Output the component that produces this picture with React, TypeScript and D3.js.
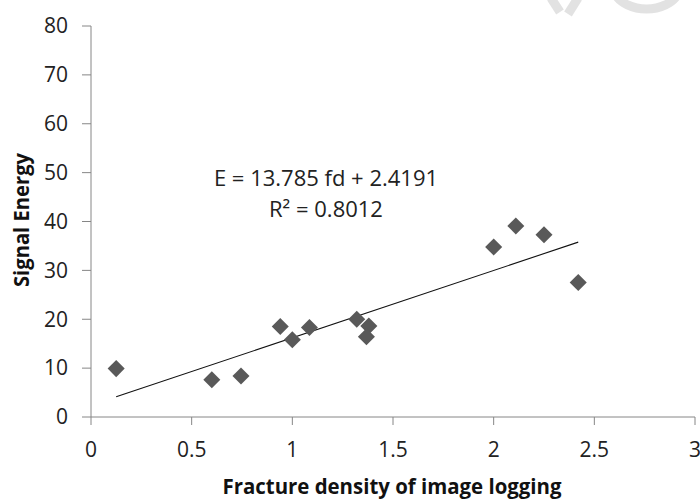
import React from "react";
import * as d3 from "d3";

const fractureDensity = [0.125, 0.6, 0.745, 0.94, 1.0, 1.085, 1.32, 1.38, 1.368, 2.0, 2.11, 2.25, 2.42];
const signalEnergy = [9.9, 7.6, 8.4, 18.5, 15.8, 18.3, 20.0, 18.6, 16.4, 34.8, 39.1, 37.3, 27.5];
const xTicks = [0, 0.5, 1, 1.5, 2, 2.5, 3];
const yTicks = [0, 10, 20, 30, 40, 50, 60, 70, 80];
const slope = 13.785;
const intercept = 2.4191;
const equationText = "E = 13.785 fd + 2.4191";
const r2Text = "R² = 0.8012";
const xTitle = "Fracture density of image logging";
const yTitle = "Signal Energy";

const W = 700;
const H = 499;
const FONT = "'Open Sans', Lato, sans-serif";

export default function App() {
  const x = d3.scaleLinear().domain([0, 3]).range([91, 695]);
  const y = d3.scaleLinear().domain([0, 80]).range([417, 26]);
  const axisColor = "#868686";
  const xMin = d3.min(fractureDensity) as number;
  const xMax = d3.max(fractureDensity) as number;
  const line = d3.line<number>().x((d) => x(d)).y((d) => y(slope * d + intercept));
  const diamond = d3.symbol().type(d3.symbolDiamond2 ?? d3.symbolDiamond).size(185)();
  return (
    <svg width={W} height={H} style={{ position: "absolute", left: 0, top: 0, background: "#fff" }}>
      <g fill="none" stroke="#e2e2e2" strokeWidth={9}>
        <path d="M 551 -2 L 560 12" />
        <path d="M 578 -2 L 568 14" />
        <path d="M 615 -6 A 34 24 0 0 0 678 -6" />
      </g>
      {/* y axis */}
      <line x1={x(0)} x2={x(0)} y1={y(80)} y2={y(0)} stroke={axisColor} strokeWidth={1} />
      {yTicks.map((t) => (
        <g key={"y" + t}>
          <line x1={x(0) - 9} x2={x(0)} y1={y(t)} y2={y(t)} stroke={axisColor} />
          <text x={68} y={y(t)} dy="0.35em" textAnchor="end" fontFamily={FONT} fontSize={21} fill="#222">
            {t}
          </text>
        </g>
      ))}
      {/* x axis */}
      <line x1={x(0)} x2={x(3)} y1={y(0)} y2={y(0)} stroke={axisColor} strokeWidth={1} />
      {xTicks.map((t) => (
        <g key={"x" + t}>
          <line x1={x(t)} x2={x(t)} y1={y(0)} y2={y(0) + 8} stroke={axisColor} />
          <text x={x(t)} y={457} textAnchor="middle" fontFamily={FONT} fontSize={21} fill="#222">
            {t}
          </text>
        </g>
      ))}
      {/* trend line */}
      <path d={line([xMin, xMax]) ?? ""} fill="none" stroke="#111" strokeWidth={1.1} />
      {/* points */}
      {fractureDensity.map((fd, i) => (
        <path
          key={"p" + i}
          d={diamond ?? ""}
          transform={`translate(${x(fd)},${y(signalEnergy[i])})`}
          fill="#595959"
        />
      ))}
      <text x={326} y={186} textAnchor="middle" fontFamily={FONT} fontSize={22} fill="#222">
        {equationText}
      </text>
      <text x={326} y={217} textAnchor="middle" fontFamily={FONT} fontSize={22} fill="#222">
        {r2Text}
      </text>
      <text
        x={392}
        y={494}
        textAnchor="middle"
        fontFamily={FONT}
        fontSize={20.5}
        fontWeight="bold"
        fill="#111"
        textLength={339}
        lengthAdjust="spacingAndGlyphs"
      >
        {xTitle}
      </text>
      <text
        transform={`translate(29,${220}) rotate(-90)`}
        textAnchor="middle"
        fontFamily={FONT}
        fontSize={20.5}
        fontWeight="bold"
        fill="#111"
        textLength={134}
        lengthAdjust="spacingAndGlyphs"
      >
        {yTitle}
      </text>
    </svg>
  );
}
